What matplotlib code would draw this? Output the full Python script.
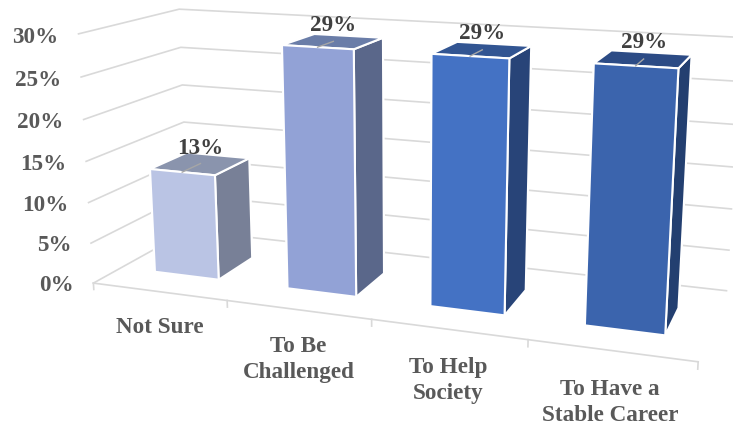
import numpy as np
import matplotlib
matplotlib.use('Agg')
import matplotlib.pyplot as plt

categories = ['Not Sure', 'To Be\nChallenged', 'To Help\nSociety', 'To Have a\nStable Career']
values = [0.13, 0.29, 0.29, 0.29]
value_labels = ['13%', '29%', '29%', '29%']
z_ticks = [0, 0.05, 0.10, 0.15, 0.20, 0.25, 0.30]
z_labels = ['0%', '5%', '10%', '15%', '20%', '25%', '30%']
front_colors = ['#BAC4E4', '#92A2D6', '#4472C4', '#3B64AD']
top_colors = ['#8A94AD', '#6A7DA8', '#325592', '#2C4B85']
side_colors = ['#788097', '#5A678A', '#284478', '#233F70']

plt.rcParams['font.family'] = ['Liberation Serif', 'DejaVu Serif']
grid_color = '#D9D9D9'
font_px = 16.7

fig = plt.figure(figsize=(7.33, 4.28), dpi=100)
# axes are bigger than the figure so nothing is clipped
size = 800
cx, cy = 396.5, 175  # pixel position of the box centre (y from top)
ax = fig.add_axes([(cx - size/2)/733, (428 - cy - size/2)/428, size/733, size/428], projection='3d')
ax.set_xlim(0, 4)
ax.set_ylim(0, 1)
ax.set_zlim(0, 0.3)
ax.set_xticks([])
ax.set_yticks([])
ax.set_zticks([])
ax.set_box_aspect((634, 205, 266), zoom=0.847)
ax.set_proj_type('persp', focal_length=0.31)
ax.view_init(elev=14, azim=-70)
ax.set_axis_off()
ax.patch.set_alpha(0)
ax.computed_zorder = False

# grid on back and left walls
for z in z_ticks:
    ax.plot([0, 0, 4], [0, 1, 1], [z, z, z], color=grid_color, lw=1.2, zorder=1)
ax.plot([0, 4], [0, 0], [0, 0], color=grid_color, lw=1.2, zorder=1)
for i in range(5):
    ax.plot([i, i], [0, 0], [0, -0.008], color=grid_color, lw=1.2, zorder=1)

# bars
bar_w = 0.49
bar_d = 0.39
bar_y = 0.27
for i in range(4):
    faces = [top_colors[i], top_colors[i], front_colors[i], front_colors[i], side_colors[i], side_colors[i]]
    ax.bar3d(i + 0.51 - bar_w/2, bar_y, 0, bar_w, bar_d, values[i], color=faces, shade=False,
             edgecolor='white', linewidth=1.5, zorder=2)
    ax.plot([i + 0.51, i + 0.51], [bar_y, bar_y + bar_d/2], [values[i], values[i]], color='#A6A6A6', lw=1, zorder=3)
    ax.text(i + 0.51, bar_y + bar_d/2, values[i] + 0.006, value_labels[i], ha='center', va='bottom',
            fontsize=font_px, fontweight='bold', color='#404040', zorder=4)
    ax.text(i + 0.5, 0, -0.032, categories[i], ha='center', va='top', fontsize=font_px, linespacing=1.3,
            fontweight='bold', color='#595959', zorder=4)

for z, lab in zip(z_ticks, z_labels):
    ax.text(-0.155, 0, z - 0.006, lab, ha='right', va='center', fontsize=font_px, fontweight='bold', color='#595959', zorder=4)

fig.savefig('out.png', dpi=100)
